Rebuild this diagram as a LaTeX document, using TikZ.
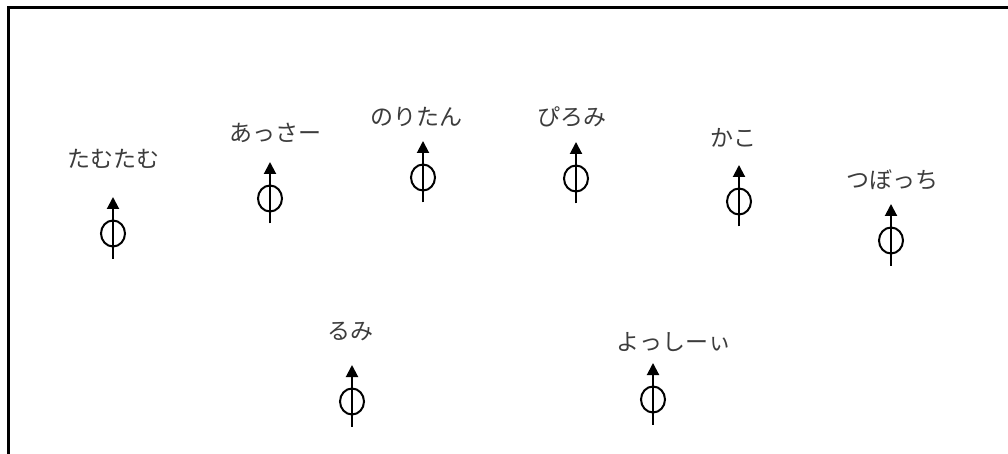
\documentclass[tikz,border=0pt]{standalone}
\usepackage{fontspec}
\newfontfamily\jpfont{Noto Sans CJK JP}
\usetikzlibrary{arrows.meta,shapes.geometric}
\definecolor{txtgray}{HTML}{3C3C3C}
\tikzset{
  lbl/.style={font=\jpfont\fontsize{23}{27}\selectfont, text=txtgray, anchor=center, inner sep=0pt},
  ring/.style={draw=black, line width=2pt, ellipse, minimum width=24pt, minimum height=26pt, inner sep=0pt},
  stem/.style={line width=2pt, -{Triangle[length=12pt,width=12pt]}},
  frameline/.style={line width=3pt, black}
}
\newcommand{\actorsym}[5]{% id, x, tip y, text x, text y
  \node[lbl] (#1-l) at (#4,#5) {#1};
  \coordinate (#1-t) at (#2,#3);
  \coordinate (#1-b) at (#2,#3+61.5);
  \node[ring] (#1-c) at (#2,#3+36.5) {};
  \draw[stem] (#1-b) -- (#1-t);
}
\begin{document}
\begin{tikzpicture}[x=1pt,y=-1pt]
\useasboundingbox (0,0) rectangle (1008,454);
\clip (0,0) rectangle (1008,454);
\coordinate (f1) at (8.5,470);
\coordinate (f2) at (8.5,7.5);
\coordinate (f3) at (1020,7.5);
\draw[frameline] (f1) -- (f2) -- (f3);
\actorsym{たむたむ}{113}{197}{113}{159}
\actorsym{あっさー}{270}{162}{275}{133}
\actorsym{のりたん}{423}{141}{416}{117}
\actorsym{ぴろみ}{576}{142}{572}{117}
\actorsym{かこ}{739}{165}{733}{138}
\actorsym{つぼっち}{891}{204}{892}{180}
\actorsym{るみ}{352}{365}{350}{332}
\actorsym{よっしーぃ}{653}{363}{674}{342}
\end{tikzpicture}
\end{document}
